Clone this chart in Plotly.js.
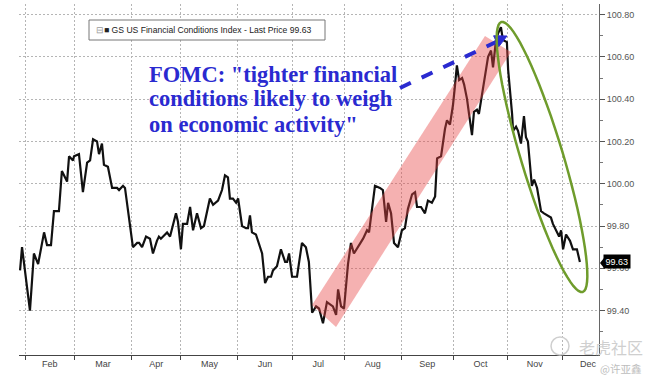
<!DOCTYPE html>
<html><head><meta charset="utf-8">
<script src="https://cdn.plot.ly/plotly-3.0.1.min.js"></script>
<style>html,body{margin:0;padding:0;background:#fff}#chart{width:654px;height:384px}</style>
</head><body><div id="chart"></div>
<script>
// trading days counted from 1 Feb 2023
const tradingDay = [-2.0,-1.2,2.0,3.6,5.3,7.7,8.9,10.5,11.7,13.7,
 14.9,17.0,17.8,19.4,19.8,21.8,23.4,25.1,26.3,27.5,
 29.1,29.9,31.1,31.9,33.5,35.2,36.4,37.2,38.0,39.6,
 40.4,43.6,45.3,46.1,47.3,48.9,50.5,51.7,53.3,54.1,
 54.9,55.8,57.4,58.6,61.0,61.8,63.0,63.8,65.5,66.7,
 67.9,69.5,71.1,72.3,73.5,74.7,76.0,78.0,79.6,80.8,
 82.0,82.8,84.0,85.3,86.1,86.9,87.7,89.3,90.1,90.9,
 91.7,93.3,95.8,97.0,98.2,99.4,100.2,101.8,103.4,105.1,
 105.9,106.7,107.9,109.9,111.9,113.5,114.7,116.0,117.6,118.8,
 120.4,122.0,123.2,124.4,125.7,126.5,127.7,128.9,130.5,131.7,
 132.9,134.9,136.6,138.2,139.0,140.2,141.4,143.4,144.6,145.9,
 146.7,147.9,149.1,150.7,152.3,153.5,154.7,156.4,157.6,158.4,
 160.0,161.6,162.8,164.4,165.7,166.5,168.1,169.7,170.5,171.7,
 172.9,173.7,174.5,175.4,176.6,177.4,178.6,179.4,180.6,181.4,
 182.6,183.4,184.6,185.9,187.1,188.3,189.1,190.3,191.1,192.3,
 193.1,194.7,195.2,196.8,197.2,198.4,199.2,200.4,201.6,202.4,
 203.2,204.8,205.7,206.9,208.5,209.7,210.9,212.5,213.3,215.0,
 215.8,216.6,217.4,218.6,220.2,221.4,223.0,224.2];
const gsfci = [99.59,99.70,99.40,99.67,99.62,99.77,99.71,99.71,99.87,99.87,
 100.06,100.01,100.13,100.11,100.13,100.14,99.96,100.10,100.11,100.21,
 100.20,100.14,100.19,100.09,100.08,99.98,99.98,99.98,99.97,99.99,
 99.98,99.70,99.72,99.72,99.70,99.75,99.74,99.67,99.73,99.75,
 99.74,99.75,99.77,99.75,99.86,99.82,99.69,99.81,99.81,99.89,
 99.78,99.86,99.79,99.80,99.86,99.93,99.90,99.92,99.97,100.04,
 100.03,99.93,99.93,99.91,99.93,99.87,99.80,99.79,99.79,99.85,
 99.77,99.76,99.67,99.53,99.56,99.56,99.59,99.61,99.69,99.63,
 99.63,99.67,99.56,99.56,99.72,99.70,99.63,99.39,99.42,99.41,
 99.34,99.44,99.43,99.42,99.38,99.50,99.42,99.41,99.62,99.72,
 99.67,99.71,99.74,99.78,99.77,99.88,99.99,99.98,99.97,99.82,
 99.91,99.86,99.72,99.70,99.78,99.79,99.88,99.95,99.96,99.89,
 99.89,99.86,99.92,99.91,99.94,100.12,100.13,100.26,100.30,100.28,
 100.37,100.46,100.56,100.49,100.50,100.47,100.40,100.33,100.23,100.34,
 100.35,100.33,100.42,100.53,100.60,100.63,100.55,100.68,100.71,100.74,
 100.68,100.67,100.54,100.33,100.25,100.27,100.25,100.19,100.32,100.22,
 100.20,99.99,100.02,99.98,99.87,99.86,99.85,99.84,99.81,99.77,
 99.75,99.78,99.69,99.76,99.73,99.69,99.69,99.63];
const monthStarts = [0,20,43,63,86,108,129,152,173,195,217];
const monthMid = [10,31.5,53,74.5,97,118.5,140.5,162.5,184,206,227.5];
const monthLabels = ['Feb','Mar','Apr','May','Jun','Jul','Aug','Sep','Oct','Nov','Dec'];
const yTickVals = [99.4,99.6,99.8,100.0,100.2,100.4,100.6,100.8];
const yMinorVals = [99.3,99.5,99.7,99.9,100.1,100.3,100.5,100.7];
const lastPrice = 99.63;
const seriesName = 'GS US Financial Conditions Index';
const quoteLines = ['FOMC: "tighter financial','conditions likely to weigh','on economic activity"'];

// layout geometry (pixels)
const M = {l:19, r:55, t:4, b:29};
const W = 654 - M.l - M.r, H = 384 - M.t - M.b;
const P = (x, y) => [(x - M.l) / W, (M.t + H - y) / H];
const path = pts => pts.map((p, i) => { const q = P(p[0], p[1]); return (i ? 'L' : 'M') + q[0].toFixed(4) + ',' + q[1].toFixed(4); }).join(' ') + ' Z';

// rotated ellipse (decoration)
const ell = [];
{
  const cx = 542, cy = 157, a = 141, b = 21;
  const ux = 81/281, uy = 269/281, vx = uy, vy = -ux;
  for (let i = 0; i < 72; i++) {
    const t = i / 72 * 2 * Math.PI;
    ell.push([cx + a*Math.cos(t)*ux + b*Math.sin(t)*vx, cy + a*Math.cos(t)*uy + b*Math.sin(t)*vy]);
  }
}

const blue = '#2a2ad0';
const shapes = [
  {type:'path', xref:'paper', yref:'paper', layer:'above', path: path([[312,305],[336,327],[511,52],[485,36]]),
   fillcolor:'rgba(232,70,70,0.42)', line:{width:0}},
  {type:'line', xref:'paper', yref:'paper', layer:'above',
   x0:P(400,88)[0], y0:P(400,88)[1], x1:P(496,42)[0], y1:P(496,42)[1],
   line:{color:blue, width:4, dash:'dash'}},
  {type:'path', xref:'paper', yref:'paper', layer:'above', path: path([[507,36],[498.8,46.6],[493.6,35.8]]),
   fillcolor:blue, line:{color:blue, width:1}},
  {type:'path', xref:'paper', yref:'paper', layer:'above', path: path(ell),
   fillcolor:'rgba(0,0,0,0)', line:{color:'#6f9c2c', width:2.5}},
  {type:'rect', xref:'paper', yref:'paper', layer:'above',
   x0:P(89,0)[0], x1:P(325,0)[0], y0:P(0,20)[1], y1:P(0,40)[1],
   fillcolor:'#ffffff', line:{color:'#777', width:1}},
  {type:'circle', xref:'paper', yref:'paper', layer:'above',
   x0:P(551,0)[0], x1:P(569,0)[0], y0:P(0,337)[1], y1:P(0,355)[1],
   line:{color:'#cfcfcf', width:1.5}},
  {type:'path', xref:'paper', yref:'paper', layer:'above',
   path: path([[600,263],[604,258],[604,268]]), fillcolor:'#000', line:{width:0}}
];

const annotations = [
  {xref:'paper', yref:'paper', x:P(94,0)[0], y:P(0,30)[1], xanchor:'left', yanchor:'middle', showarrow:false,
   text:'<span style="color:#999">⊟</span>■ ' + seriesName + ' - Last Price ' + lastPrice.toFixed(2),
   font:{family:'Liberation Sans, Arial, sans-serif', size:8.6, color:'#222'}},
  {xref:'paper', yref:'y', x:1, y:lastPrice, xanchor:'left', yanchor:'middle', xshift:4, showarrow:false,
   text:lastPrice.toFixed(2), bgcolor:'#000', borderpad:1.5,
   font:{family:'Liberation Sans, Arial, sans-serif', size:9, color:'#fff'}},
  {xref:'paper', yref:'paper', x:P(577,0)[0], y:P(0,347)[1], xanchor:'left', yanchor:'middle', showarrow:false,
   text:'老虎社区', font:{family:'Noto Sans CJK SC', size:16, color:'#cfcfcf'}},
  {xref:'paper', yref:'paper', x:P(598,0)[0], y:P(0,368)[1], xanchor:'left', yanchor:'middle', showarrow:false,
   text:'@许亚鑫', font:{family:'Noto Sans CJK SC', size:10.5, color:'#bdbdbd'}}
];
const lineY = [74, 99, 124];
quoteLines.forEach((t, i) => annotations.push({
  xref:'paper', yref:'paper', x:P(147,0)[0], y:P(0,lineY[i])[1], xanchor:'left', yanchor:'middle', showarrow:false,
  text:'<b>' + t + '</b>', font:{family:'Liberation Serif, Times New Roman, serif', size:22.5, color:blue}
}));

const trace = {x: tradingDay, y: gsfci, type:'scatter', mode:'lines', name: seriesName,
  line:{color:'#111', width:2.2}, showlegend:false, hoverinfo:'skip'};

const grid = '#b5b5b5';
const layout = {
  width:654, height:384, margin:M, paper_bgcolor:'#fff', plot_bgcolor:'#fff', showlegend:false,
  font:{family:'Liberation Sans, Arial, sans-serif', size:9, color:'#444'},
  xaxis:{range:[(M.l - 25)/2.475, (654 - M.r - 25)/2.475], tickmode:'array', tickvals:monthMid, ticktext:monthLabels,
    ticks:'', showgrid:false, zeroline:false, showline:true, linecolor:'#444', linewidth:1,
    tickfont:{size:9, color:'#444'},
    minor:{tickmode:'array', tickvals:monthStarts, ticks:'outside', ticklen:4, tickcolor:'#444',
      showgrid:true, gridcolor:grid, griddash:'2px,2px', gridwidth:1}},
  yaxis:{side:'right', range:[99.19, 100.85], tickmode:'array', tickvals:yTickVals, tickformat:'.2f',
    ticks:'outside', ticklen:5, tickcolor:'#555', showline:true, linecolor:'#666', linewidth:1,
    showgrid:true, gridcolor:grid, griddash:'2px,2px', gridwidth:1, zeroline:false,
    tickfont:{size:9, color:'#555'},
    minor:{tickmode:'array', tickvals:yMinorVals, ticks:'outside', ticklen:3, tickcolor:'#777', showgrid:false}},
  shapes, annotations
};
Plotly.newPlot('chart', [trace], layout, {staticPlot:true, displayModeBar:false});
</script></body></html>
